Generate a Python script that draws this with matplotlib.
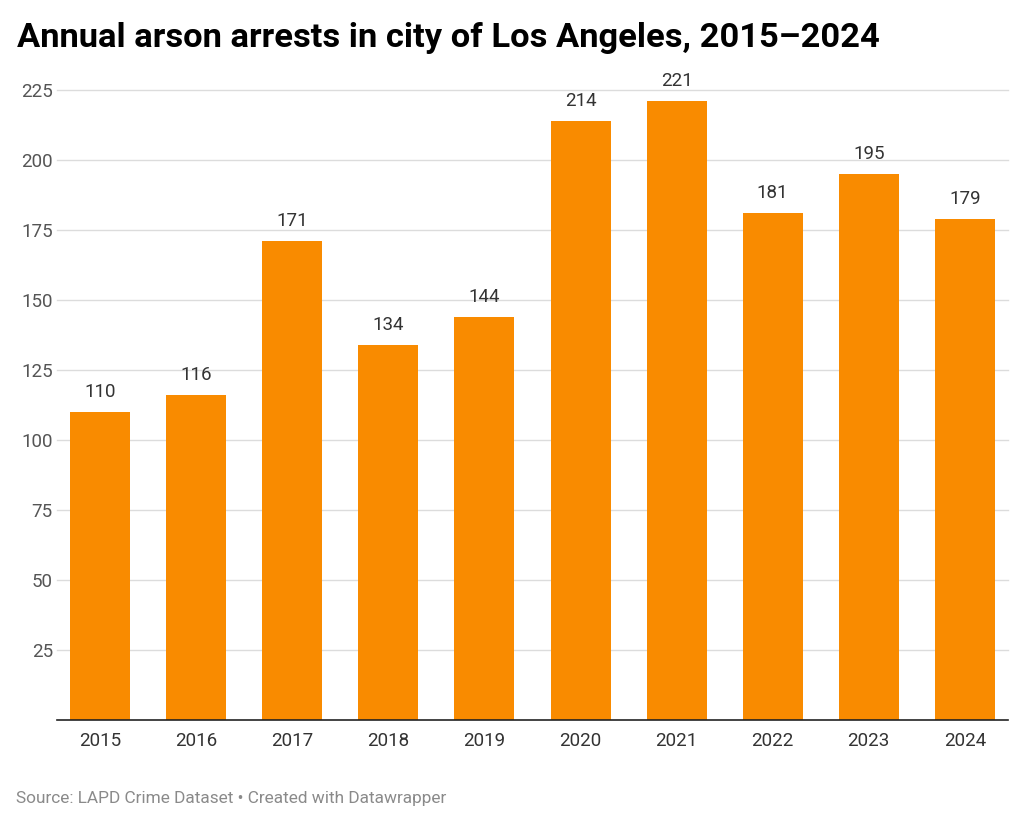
import matplotlib.pyplot as plt
import numpy as np

# Datos
years = ['2015', '2016', '2017', '2018', '2019', '2020', '2021', '2022', '2023', '2024']
arrests = [110, 116, 171, 134, 144, 214, 221, 181, 195, 179]
yticks = [25, 50, 75, 100, 125, 150, 175, 200, 225]

plt.rcParams['font.family'] = ['Roboto', 'DejaVu Sans']

fig = plt.figure(figsize=(10.24, 8.26), dpi=100)
ax = fig.add_axes([57 / 1024, 1 - 720 / 826, (1008 - 57) / 1024, (720 - 90) / 826])

x = np.arange(len(years))
ax.bar(x, arrests, width=0.625, color='#f98b00', zorder=2)

for xi, v in zip(x, arrests):
    ax.text(xi, v + 4, str(v), ha='center', va='bottom', fontsize=13.5, color='#333333')

ax.set_xlim(-0.45, 9.45)
ax.set_ylim(0, 225)
ax.set_xticks(x)
ax.set_xticklabels(years, fontsize=13.5, color='#333333')
ax.set_yticks(yticks)
ax.set_yticklabels([str(t) for t in yticks], fontsize=13.5, color='#555555')
ax.tick_params(axis='x', length=0, pad=9)
ax.tick_params(axis='y', length=0, pad=3)
ax.yaxis.grid(True, color='#dcdcdc', linewidth=1, zorder=0)
for t in ax.yaxis.get_gridlines():
    t.set_clip_on(False)
for s in ['top', 'right', 'left']:
    ax.spines[s].set_visible(False)
ax.spines['bottom'].set_color('#222222')
ax.spines['bottom'].set_linewidth(1.2)
ax.spines['bottom'].set_zorder(3)

fig.text(17 / 1024, 1 - 38 / 826, 'Annual arson arrests in city of Los Angeles, 2015\u20132024',
         fontsize=24.8, fontweight='bold', color='#000000', va='center', ha='left')
fig.text(16 / 1024, 1 - 798 / 826, 'Source: LAPD Crime Dataset \u2022 Created with Datawrapper',
         fontsize=12.4, color='#8a8a8a', va='center', ha='left')

fig.savefig('out.png', dpi=100)
